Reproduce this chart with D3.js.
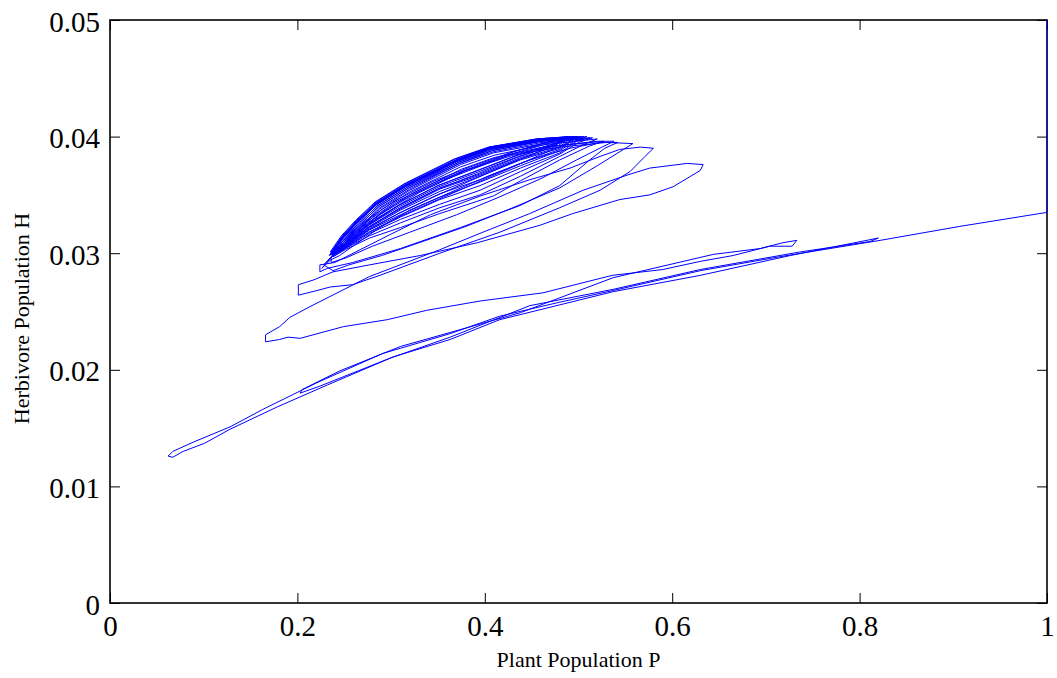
<!DOCTYPE html>
<html>
<head>
<meta charset="utf-8">
<script src="https://cdn.jsdelivr.net/npm/d3@7"></script>
<style>
  body { margin: 0; background: #fff; }
  text { font-family: "Liberation Serif", serif; }
</style>
</head>
<body>
<script>
// phase trajectory as [P, H]
// initial drop along P = 1 and the first long swing down to the lower tip
const startPath = [
  [1.000, 0.0500], [1.000, 0.0335], [0.907, 0.0323], [0.822, 0.0311], [0.715, 0.0297],
  [0.630, 0.0285], [0.537, 0.0268], [0.480, 0.0258], [0.416, 0.0246], [0.363, 0.0231],
  [0.291, 0.0214], [0.221, 0.0189], [0.163, 0.0166], [0.128, 0.0151], [0.089, 0.0138],
  [0.067, 0.0130], [0.062, 0.0126], [0.067, 0.0125], [0.078, 0.0130], [0.101, 0.0137],
  [0.128, 0.0149], [0.178, 0.0168], [0.232, 0.0187], [0.302, 0.0211], [0.363, 0.0226],
  [0.416, 0.0243], [0.537, 0.0267], [0.630, 0.0281], [0.726, 0.0298], [0.820, 0.0313],
  [0.811, 0.0310]
];

// second pass down, turn near P = 0.2, and the small hook at P = 0.73
const lowerPass = [
  [0.736, 0.0301], [0.630, 0.0286], [0.537, 0.0269], [0.448, 0.0255], [0.363, 0.0228],
  [0.299, 0.0210], [0.224, 0.0186], [0.203, 0.0180], [0.205, 0.0183], [0.245, 0.0199],
  [0.310, 0.0220], [0.363, 0.0232], [0.438, 0.0249], [0.537, 0.0279], [0.644, 0.0299],
  [0.694, 0.0304], [0.718, 0.0309], [0.733, 0.0311], [0.728, 0.0306], [0.704, 0.0306],
  [0.665, 0.0298], [0.630, 0.0293], [0.590, 0.0286], [0.536, 0.0281]
];

// the wide loops between the lower strand and the dome
const middleLoops = [
  [0.462, 0.0266], [0.395, 0.0259], [0.338, 0.0251], [0.296, 0.0243], [0.249, 0.0237],
  [0.203, 0.0227], [0.190, 0.0228], [0.181, 0.0226], [0.166, 0.0224], [0.166, 0.0230],
  [0.181, 0.0237], [0.192, 0.0245], [0.213, 0.0254], [0.277, 0.0280], [0.352, 0.0303],
  [0.398, 0.0318], [0.448, 0.0334], [0.505, 0.0354], [0.552, 0.0367], [0.576, 0.0373],
  [0.616, 0.0377], [0.633, 0.0376], [0.630, 0.0371], [0.601, 0.0357], [0.576, 0.0350],
  [0.544, 0.0346], [0.494, 0.0334], [0.459, 0.0324], [0.392, 0.0309], [0.331, 0.0298],
  [0.277, 0.0290], [0.238, 0.0284], [0.217, 0.0277], [0.201, 0.0273], [0.201, 0.0264],
  [0.221, 0.0268], [0.235, 0.0271], [0.259, 0.0273], [0.288, 0.0281], [0.352, 0.0300],
  [0.416, 0.0318], [0.480, 0.0339], [0.523, 0.0354], [0.555, 0.0370], [0.571, 0.0383],
  [0.580, 0.0390], [0.566, 0.0391], [0.544, 0.0389], [0.523, 0.0383], [0.491, 0.0373],
  [0.448, 0.0363], [0.395, 0.0349], [0.342, 0.0333], [0.299, 0.0316], [0.267, 0.0303],
  [0.240, 0.0292], [0.224, 0.0290], [0.224, 0.0284], [0.232, 0.0287], [0.259, 0.0292],
  [0.310, 0.0304], [0.374, 0.0322], [0.438, 0.0341], [0.480, 0.0358], [0.512, 0.0380],
  [0.528, 0.0390], [0.542, 0.0395], [0.523, 0.0395], [0.491, 0.0390], [0.448, 0.0380],
  [0.406, 0.0367], [0.363, 0.0352], [0.320, 0.0337], [0.288, 0.0322], [0.261, 0.0307],
  [0.245, 0.0298], [0.235, 0.0294]
];

// two loops with lower returns before the dome tightens
const outerDomeLoops = [
  [[0.226, 0.0287], [0.240, 0.0300], [0.258, 0.0312], [0.285, 0.0330], [0.330, 0.0352], [0.380, 0.0371], [0.430, 0.0384], [0.480, 0.0391], [0.530, 0.0395], [0.558, 0.0394],
   [0.548, 0.0389], [0.520, 0.0375], [0.480, 0.0356], [0.430, 0.0339], [0.380, 0.0323], [0.330, 0.0309], [0.290, 0.0298], [0.255, 0.0290], [0.238, 0.0285]],
  [[0.228, 0.0290], [0.243, 0.0303], [0.262, 0.0316], [0.288, 0.0333], [0.325, 0.0351], [0.375, 0.0370], [0.425, 0.0384], [0.475, 0.0392], [0.520, 0.0396], [0.538, 0.0396],
   [0.525, 0.0391], [0.498, 0.0380], [0.460, 0.0364], [0.415, 0.0348], [0.370, 0.0333], [0.320, 0.0318], [0.280, 0.0306], [0.252, 0.0296], [0.236, 0.0292]]
];

// the dome: loops closing in on the cycle
const domeLoops = [
  [[0.236, 0.0296], [0.250, 0.0308], [0.267, 0.0320], [0.290, 0.0335], [0.322, 0.0351], [0.375, 0.0372], [0.410, 0.0382], [0.462, 0.0391], [0.527, 0.0396],
   [0.512, 0.0392], [0.480, 0.0380], [0.438, 0.0362], [0.409, 0.0349], [0.352, 0.0334], [0.310, 0.0322], [0.277, 0.0313], [0.251, 0.0303]],
  [[0.238, 0.0297], [0.251, 0.0309], [0.268, 0.0322], [0.289, 0.0337], [0.321, 0.0353], [0.374, 0.0374], [0.410, 0.0384], [0.463, 0.0393], [0.520, 0.0398],
   [0.505, 0.0393], [0.480, 0.0383], [0.438, 0.0366], [0.395, 0.0350], [0.352, 0.0339], [0.310, 0.0326], [0.277, 0.0315], [0.251, 0.0304]],
  [[0.237, 0.0298], [0.252, 0.0310], [0.268, 0.0323], [0.288, 0.0338], [0.320, 0.0354], [0.374, 0.0376], [0.409, 0.0386], [0.462, 0.0394], [0.515, 0.0399],
   [0.500, 0.0395], [0.480, 0.0385], [0.438, 0.0370], [0.395, 0.0354], [0.352, 0.0342], [0.310, 0.0329], [0.277, 0.0317], [0.251, 0.0304]],
  [[0.238, 0.0297], [0.251, 0.0311], [0.267, 0.0323], [0.288, 0.0339], [0.320, 0.0355], [0.373, 0.0377], [0.409, 0.0387], [0.461, 0.0395], [0.512, 0.0399],
   [0.498, 0.0396], [0.480, 0.0386], [0.438, 0.0373], [0.395, 0.0358], [0.352, 0.0346], [0.310, 0.0331], [0.277, 0.0318], [0.251, 0.0305]],
  [[0.238, 0.0298], [0.251, 0.0311], [0.266, 0.0324], [0.287, 0.0340], [0.319, 0.0356], [0.373, 0.0377], [0.408, 0.0388], [0.460, 0.0396], [0.509, 0.0400],
   [0.496, 0.0396], [0.480, 0.0388], [0.438, 0.0375], [0.395, 0.0361], [0.352, 0.0348], [0.310, 0.0333], [0.277, 0.0320], [0.251, 0.0305]],
  [[0.237, 0.0298], [0.250, 0.0312], [0.266, 0.0324], [0.287, 0.0340], [0.319, 0.0356], [0.372, 0.0378], [0.408, 0.0388], [0.460, 0.0396], [0.506, 0.0400],
   [0.494, 0.0397], [0.480, 0.0389], [0.438, 0.0377], [0.395, 0.0363], [0.352, 0.0351], [0.310, 0.0335], [0.277, 0.0321], [0.251, 0.0306]],
  [[0.237, 0.0299], [0.250, 0.0312], [0.265, 0.0325], [0.286, 0.0341], [0.318, 0.0357], [0.372, 0.0378], [0.407, 0.0389], [0.459, 0.0396], [0.503, 0.0400],
   [0.492, 0.0397], [0.480, 0.0390], [0.438, 0.0380], [0.395, 0.0366], [0.352, 0.0353], [0.310, 0.0337], [0.277, 0.0322], [0.251, 0.0306]],
  [[0.234, 0.0298], [0.246, 0.0312], [0.262, 0.0325], [0.283, 0.0341], [0.315, 0.0357], [0.368, 0.0378], [0.404, 0.0389], [0.455, 0.0396], [0.505, 0.0398],
   [0.490, 0.0395], [0.470, 0.0388], [0.430, 0.0374], [0.390, 0.0360], [0.350, 0.0346], [0.308, 0.0331], [0.276, 0.0318], [0.250, 0.0304]],
  [[0.237, 0.0299], [0.249, 0.0313], [0.265, 0.0325], [0.286, 0.0341], [0.318, 0.0357], [0.371, 0.0379], [0.407, 0.0389], [0.458, 0.0397], [0.500, 0.0400],
   [0.490, 0.0398], [0.480, 0.0391], [0.438, 0.0381], [0.395, 0.0367], [0.352, 0.0355], [0.310, 0.0338], [0.277, 0.0323], [0.251, 0.0307]],
  [[0.235, 0.0299], [0.247, 0.0313], [0.262, 0.0326], [0.283, 0.0342], [0.315, 0.0358], [0.368, 0.0379], [0.404, 0.0390], [0.455, 0.0397], [0.500, 0.0399],
   [0.487, 0.0397], [0.470, 0.0391], [0.430, 0.0378], [0.390, 0.0364], [0.350, 0.0350], [0.308, 0.0334], [0.276, 0.0320], [0.250, 0.0305]],
  [[0.236, 0.0299], [0.249, 0.0313], [0.264, 0.0326], [0.285, 0.0342], [0.317, 0.0358], [0.371, 0.0379], [0.406, 0.0390], [0.458, 0.0397], [0.498, 0.0400],
   [0.488, 0.0398], [0.478, 0.0392], [0.438, 0.0382], [0.395, 0.0368], [0.352, 0.0356], [0.310, 0.0339], [0.277, 0.0323], [0.251, 0.0307]],
  [[0.236, 0.0299], [0.248, 0.0313], [0.263, 0.0326], [0.284, 0.0342], [0.316, 0.0358], [0.369, 0.0379], [0.405, 0.0390], [0.456, 0.0397], [0.497, 0.0400],
   [0.486, 0.0398], [0.474, 0.0393], [0.434, 0.0382], [0.392, 0.0368], [0.350, 0.0355], [0.308, 0.0338], [0.276, 0.0322], [0.250, 0.0306]],
  [[0.236, 0.0300], [0.248, 0.0314], [0.264, 0.0326], [0.285, 0.0342], [0.317, 0.0358], [0.370, 0.0380], [0.406, 0.0390], [0.457, 0.0397], [0.496, 0.0400],
   [0.486, 0.0398], [0.476, 0.0393], [0.436, 0.0383], [0.394, 0.0370], [0.351, 0.0357], [0.309, 0.0340], [0.276, 0.0324], [0.250, 0.0307]],
  [[0.237, 0.0300], [0.249, 0.0314], [0.264, 0.0327], [0.285, 0.0343], [0.317, 0.0359], [0.370, 0.0380], [0.406, 0.0391], [0.457, 0.0398], [0.493, 0.0400],
   [0.483, 0.0399], [0.472, 0.0395], [0.432, 0.0386], [0.390, 0.0373], [0.348, 0.0360], [0.306, 0.0343], [0.275, 0.0326], [0.249, 0.0309]],
  [[0.236, 0.0300], [0.248, 0.0314], [0.263, 0.0327], [0.284, 0.0343], [0.316, 0.0359], [0.370, 0.0380], [0.405, 0.0390], [0.456, 0.0397], [0.495, 0.0400],
   [0.485, 0.0399], [0.475, 0.0394], [0.435, 0.0384], [0.393, 0.0371], [0.350, 0.0358], [0.308, 0.0341], [0.276, 0.0324], [0.250, 0.0307]],
  [[0.236, 0.0301], [0.248, 0.0315], [0.263, 0.0328], [0.284, 0.0344], [0.316, 0.0360], [0.369, 0.0381], [0.405, 0.0391], [0.456, 0.0398], [0.492, 0.0400],
   [0.482, 0.0399], [0.471, 0.0396], [0.431, 0.0387], [0.389, 0.0374], [0.347, 0.0361], [0.305, 0.0344], [0.274, 0.0327], [0.249, 0.0309]],
  [[0.236, 0.0300], [0.248, 0.0314], [0.263, 0.0327], [0.284, 0.0343], [0.316, 0.0359], [0.369, 0.0380], [0.405, 0.0391], [0.456, 0.0397], [0.494, 0.0400],
   [0.484, 0.0399], [0.474, 0.0394], [0.434, 0.0384], [0.392, 0.0371], [0.350, 0.0358], [0.308, 0.0341], [0.276, 0.0325], [0.250, 0.0308]],
  [[0.235, 0.0301], [0.247, 0.0315], [0.262, 0.0328], [0.283, 0.0344], [0.315, 0.0360], [0.368, 0.0381], [0.404, 0.0391], [0.455, 0.0398], [0.491, 0.0400],
   [0.481, 0.0399], [0.470, 0.0396], [0.430, 0.0387], [0.388, 0.0375], [0.346, 0.0362], [0.304, 0.0345], [0.273, 0.0328], [0.248, 0.0310]]
];

const xTicks = [0, 0.2, 0.4, 0.6, 0.8, 1];
const xTickLabels = ["0", "0.2", "0.4", "0.6", "0.8", "1"];
const yTicks = [0, 0.01, 0.02, 0.03, 0.04, 0.05];
const yTickLabels = ["0", "0.01", "0.02", "0.03", "0.04", "0.05"];

const w = 1057;
const h = 678;
const margin = {top: 20, right: 10, bottom: 75, left: 110};
const serif = "Liberation Serif";

const xScale = d3.scaleLinear()
                 .domain([0, 1])
                 .range([margin.left, w - margin.right]);

const yScale = d3.scaleLinear()
                 .domain([0, 0.05])
                 .range([h - margin.bottom, margin.top]);

const svg = d3.select("body")
              .append("svg")
              .attr("width", w)
              .attr("height", h)
              .attr("font-family", serif);

// ticks point inward on all four sides, like the matlab box
const tickLen = 10;

const xAxis = d3.axisBottom(xScale)
                .tickValues(xTicks)
                .tickFormat((d, i) => xTickLabels[i])
                .tickSizeInner(-tickLen)
                .tickSizeOuter(0)
                .tickPadding(12);

const yAxis = d3.axisLeft(yScale)
                .tickValues(yTicks)
                .tickFormat((d, i) => yTickLabels[i])
                .tickSizeInner(-tickLen)
                .tickSizeOuter(0)
                .tickPadding(10);

const xTop = d3.axisTop(xScale).tickValues(xTicks).tickFormat("").tickSizeInner(-tickLen).tickSizeOuter(0);
const yRight = d3.axisRight(yScale).tickValues(yTicks).tickFormat("").tickSizeInner(-tickLen).tickSizeOuter(0);

const gx = svg.append("g")
   .attr("transform", "translate(0," + (h - margin.bottom) + ")")
   .call(xAxis);

const gy = svg.append("g")
   .attr("transform", "translate(" + margin.left + ",0)")
   .call(yAxis);

svg.append("g")
   .attr("transform", "translate(0," + margin.top + ")")
   .call(xTop);

svg.append("g")
   .attr("transform", "translate(" + (w - margin.right) + ",0)")
   .call(yRight);

// d3 puts sans-serif on each axis group, put the serif back
svg.selectAll("g").attr("font-family", serif).attr("font-size", 29);
svg.selectAll(".domain").remove();
svg.selectAll(".tick line").attr("stroke", "#000").attr("stroke-width", 1);
svg.selectAll(".tick text").attr("fill", "#000");
gy.selectAll(".tick text").attr("dy", "0.38em");

// box round the plot
svg.append("rect")
   .attr("x", margin.left)
   .attr("y", margin.top)
   .attr("width", w - margin.left - margin.right)
   .attr("height", h - margin.top - margin.bottom)
   .attr("fill", "none")
   .attr("stroke", "#000")
   .attr("stroke-width", 1.6);

// the trajectory, one polyline
const path = startPath.concat(lowerPass, middleLoops, ...outerDomeLoops, ...domeLoops);

const line = d3.line()
               .x(d => xScale(d[0]))
               .y(d => yScale(d[1]));

svg.append("path")
   .datum(path)
   .attr("d", line)
   .attr("fill", "none")
   .attr("stroke", "#0000ff")
   .attr("stroke-width", 1)
   .attr("stroke-linejoin", "round");

// axis labels
svg.append("text")
   .attr("x", (margin.left + w - margin.right) / 2)
   .attr("y", 667)
   .attr("text-anchor", "middle")
   .attr("font-size", 22)
   .text("Plant Population P");

svg.append("text")
   .attr("transform", "translate(29," + ((margin.top + h - margin.bottom) / 2 + 7) + ") rotate(-90)")
   .attr("text-anchor", "middle")
   .attr("font-size", 22)
   .text("Herbivore Population H");
</script>
</body>
</html>
